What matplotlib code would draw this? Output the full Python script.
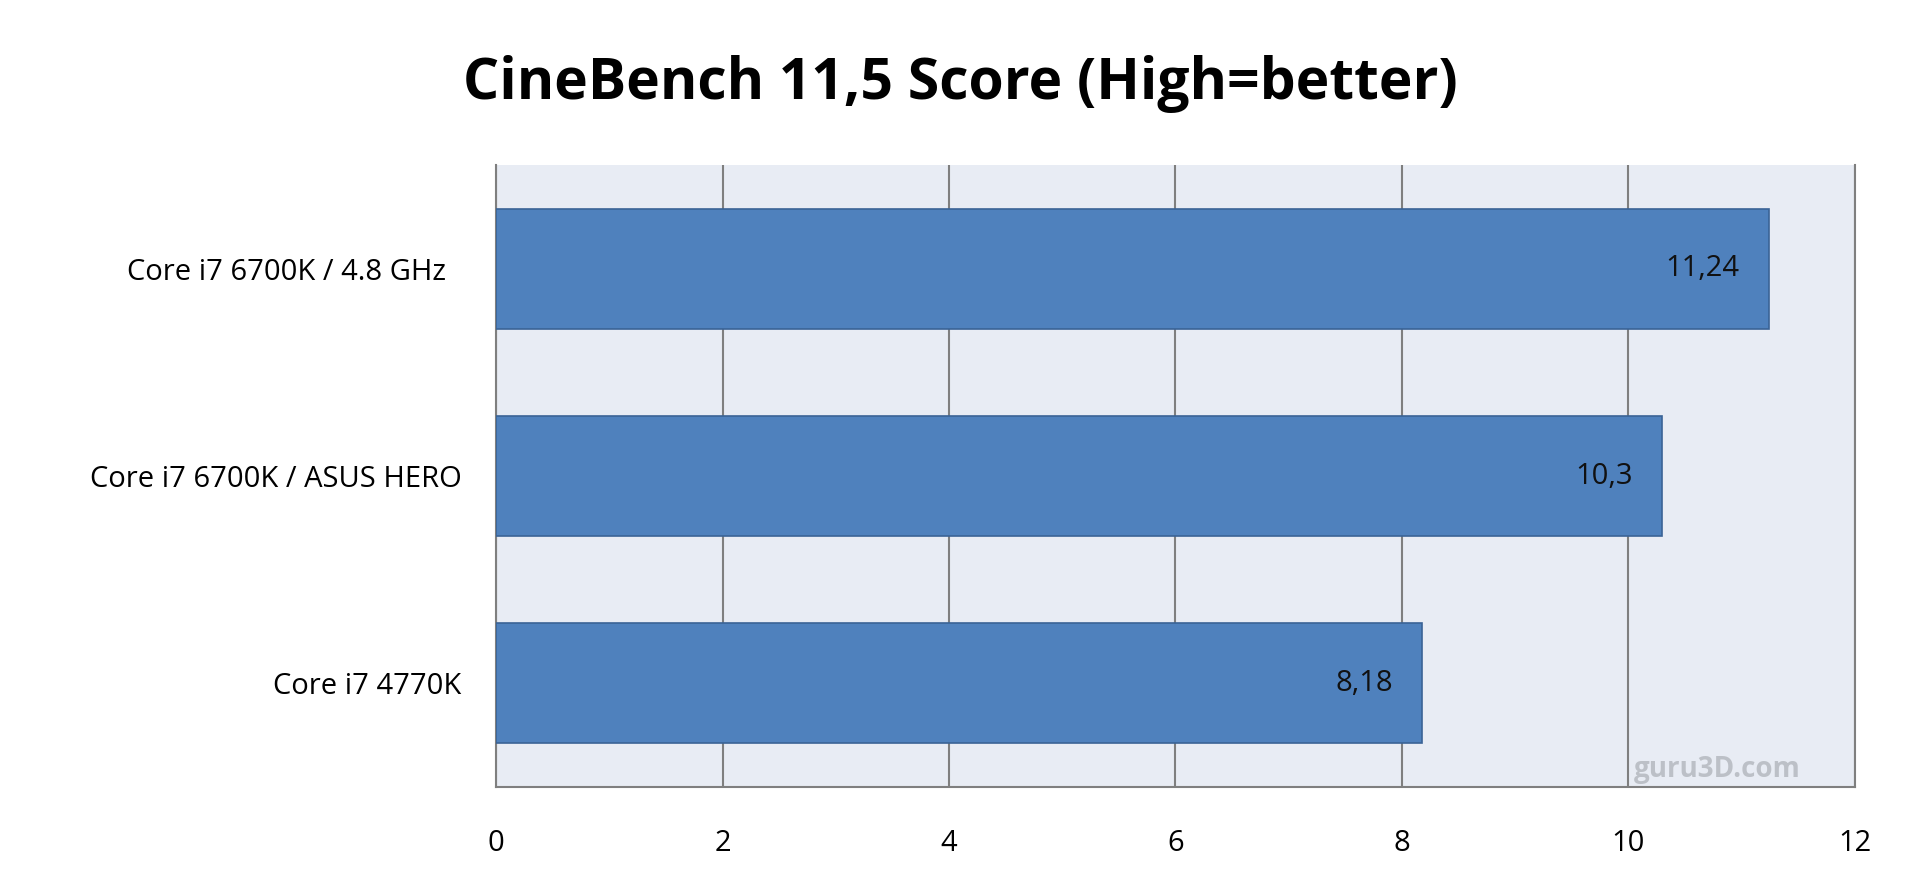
import matplotlib.pyplot as plt
import numpy as np

categories = ["Core i7 6700K / 4.8 GHz  ", "Core i7 6700K / ASUS HERO", "Core i7 4770K"]
scores = [11.24, 10.3, 8.18]
score_labels = ["11,24", "10,3", "8,18"]
x_ticks = [0, 2, 4, 6, 8, 10, 12]

plt.rcParams['font.family'] = ['Open Sans', 'DejaVu Sans']

fig = plt.figure(figsize=(19.2, 8.85), dpi=100)
ax = fig.add_axes([496 / 1920, 1 - 787 / 885, (1855 - 496) / 1920, (787 - 165) / 885])
ax.set_facecolor('#E8ECF4')

y = np.arange(len(categories))
bars = ax.barh(y, scores, height=0.58, color='#4F81BD', edgecolor='#3A6396',
               linewidth=1.2, zorder=3)

for bar, lab in zip(bars, score_labels):
    ax.annotate(lab, (bar.get_width(), bar.get_y() + bar.get_height() / 2),
                xytext=(-21, 0), textcoords='offset points', ha='right', va='center',
                fontsize=21, color='#111111', zorder=4)

ax.set_xlim(0, 12)
ax.set_ylim(2.5, -0.5)
ax.set_xticks(x_ticks)
ax.set_xticklabels([str(t) for t in x_ticks], fontsize=21)
ax.set_yticks(y)
ax.set_yticklabels(categories, fontsize=21)
ax.tick_params(length=0)
ax.tick_params(axis='x', pad=30)
ax.tick_params(axis='y', pad=25)
ax.grid(axis='x', color='#7F7F7F', linewidth=1.5, zorder=1)
for s in ax.spines.values():
    s.set_color('#7F7F7F')
    s.set_linewidth(1.5)
ax.spines['top'].set_visible(False)

fig.text(0.5, 1 - 84 / 885, "CineBench 11,5 Score (High=better)", ha='center', va='center',
         fontsize=41, fontweight='bold', color='black')
ax.text(0.96, 0.005, "guru3D.com", transform=ax.transAxes, ha='right', va='bottom',
        fontsize=20, fontweight='bold', color='#A0A4AA', alpha=0.6, zorder=5)

fig.savefig('out.png', dpi=100)
